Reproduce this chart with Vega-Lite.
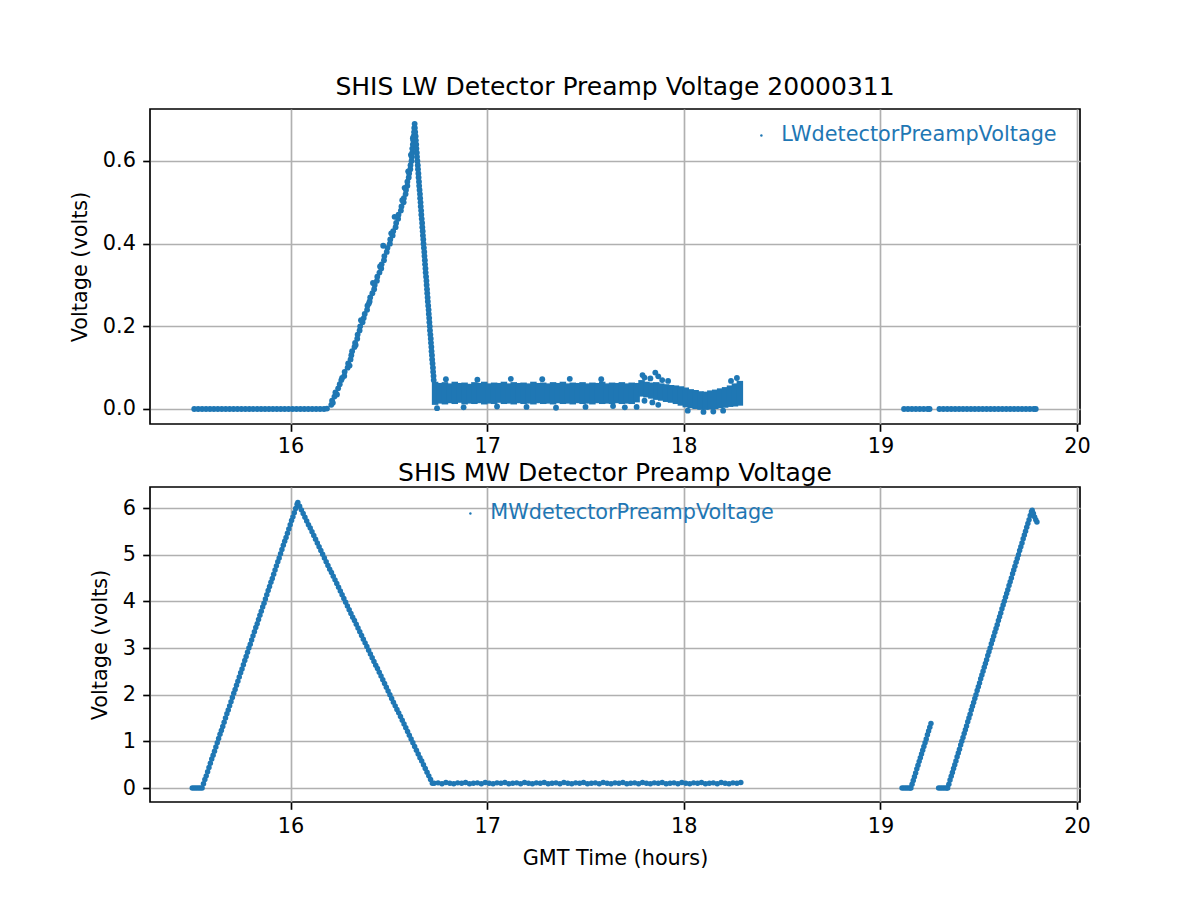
{
"$schema": "https://vega.github.io/schema/vega-lite/v6.json",
"background": "white",
"padding": {"left": 68, "top": 74, "right": 20, "bottom": 20},
"config": {
 "font": "DejaVu Sans",
 "view": {"stroke": "black", "strokeWidth": 1.67},
 "axis": {"labelFont": "DejaVu Sans", "labelFontSize": 20.8, "labelColor": "black", "titleFont": "DejaVu Sans", "titleFontSize": 20.8, "titleFontWeight": "normal", "titleColor": "black", "tickColor": "black", "tickSize": 7.3, "tickWidth": 1.67, "labelPadding": 7.3, "domain": false, "grid": true, "gridColor": "#b0b0b0", "gridWidth": 1.67, "titlePadding": 12, "labelFlush": false},
 "title": {"font": "DejaVu Sans", "fontSize": 25, "fontWeight": "normal", "color": "black", "offset": 9, "baseline": "alphabetic"},
 "legend": {"labelFont": "DejaVu Sans", "labelFontSize": 20.8, "labelColor": "#1f77b4", "labelLimit": 500, "symbolType": "circle", "symbolSize": 6, "symbolFillColor": "#1f77b4", "symbolStrokeWidth": 0, "symbolOpacity": 1, "labelOffset": 9.5, "padding": 0}
},
"datasets": {
 "lw": [
  {"t":15.51,"v":0},{"t":15.53,"v":0},{"t":15.55,"v":0},{"t":15.57,"v":0},{"t":15.59,"v":0},{"t":15.61,"v":0},{"t":15.63,"v":0},{"t":15.65,"v":0},{"t":15.67,"v":0},{"t":15.69,"v":0},{"t":15.71,"v":0},{"t":15.73,"v":0},{"t":15.75,"v":0},{"t":15.77,"v":0},{"t":15.79,"v":0},{"t":15.81,"v":0},{"t":15.83,"v":0},{"t":15.85,"v":0},{"t":15.87,"v":0},{"t":15.89,"v":0},{"t":15.91,"v":0},{"t":15.93,"v":0},{"t":15.95,"v":0},{"t":15.97,"v":0},{"t":15.99,"v":0},{"t":16.01,"v":0},{"t":16.03,"v":0},{"t":16.05,"v":0},{"t":16.07,"v":0},{"t":16.09,"v":0},{"t":16.11,"v":0},{"t":16.13,"v":0},{"t":16.15,"v":0},{"t":16.17,"v":0},{"t":16.185,"v":0.001},
  {"t":16.207,"v":0.01},{"t":16.211,"v":0.02},{"t":16.223,"v":0.03},{"t":16.228,"v":0.04},{"t":16.242,"v":0.05},{"t":16.250,"v":0.06},{"t":16.258,"v":0.07},{"t":16.273,"v":0.08},{"t":16.275,"v":0.09},{"t":16.290,"v":0.10},
  {"t":16.293,"v":0.11},{"t":16.305,"v":0.12},{"t":16.309,"v":0.13},{"t":16.313,"v":0.14},{"t":16.325,"v":0.15},{"t":16.328,"v":0.16},{"t":16.339,"v":0.17},{"t":16.341,"v":0.18},{"t":16.351,"v":0.19},{"t":16.354,"v":0.20},
  {"t":16.366,"v":0.21},{"t":16.372,"v":0.22},{"t":16.377,"v":0.23},{"t":16.389,"v":0.24},{"t":16.391,"v":0.25},{"t":16.402,"v":0.26},{"t":16.405,"v":0.27},{"t":16.416,"v":0.28},{"t":16.425,"v":0.29},{"t":16.428,"v":0.30},
  {"t":16.439,"v":0.31},{"t":16.441,"v":0.32},{"t":16.452,"v":0.33},{"t":16.461,"v":0.34},{"t":16.463,"v":0.35},{"t":16.475,"v":0.36},{"t":16.477,"v":0.37},{"t":16.489,"v":0.38},{"t":16.493,"v":0.39},{"t":16.505,"v":0.40},
  {"t":16.507,"v":0.41},{"t":16.519,"v":0.42},{"t":16.522,"v":0.43},{"t":16.534,"v":0.44},{"t":16.537,"v":0.45},{"t":16.547,"v":0.46},{"t":16.549,"v":0.47},{"t":16.561,"v":0.48},{"t":16.564,"v":0.49},{"t":16.575,"v":0.50},
  {"t":16.576,"v":0.51},{"t":16.585,"v":0.52},{"t":16.587,"v":0.53},{"t":16.594,"v":0.54},{"t":16.594,"v":0.55},{"t":16.601,"v":0.56},{"t":16.603,"v":0.57},{"t":16.609,"v":0.58},{"t":16.610,"v":0.59},{"t":16.615,"v":0.60},
  {"t":16.616,"v":0.61},{"t":16.619,"v":0.62},{"t":16.619,"v":0.63},{"t":16.622,"v":0.64},{"t":16.624,"v":0.65},{"t":16.626,"v":0.66},{"t":16.628,"v":0.67},{"t":16.629,"v":0.68},{"t":16.631,"v":0.69},
  {"t":16.215,"v":0.015},{"t":16.236,"v":0.035},{"t":16.262,"v":0.075},{"t":16.300,"v":0.105},{"t":16.331,"v":0.155},{"t":16.358,"v":0.215},{"t":16.398,"v":0.255},{"t":16.419,"v":0.305},{"t":16.455,"v":0.345},{"t":16.471,"v":0.395},
  {"t":16.512,"v":0.425},{"t":16.529,"v":0.465},{"t":16.568,"v":0.505},{"t":16.580,"v":0.535},{"t":16.598,"v":0.575},{"t":16.612,"v":0.615},{"t":16.622,"v":0.655},
  {"t":16.632,"v":0.68},{"t":16.634,"v":0.67},{"t":16.636,"v":0.66},{"t":16.637,"v":0.65},{"t":16.639,"v":0.64},{"t":16.640,"v":0.63},{"t":16.642,"v":0.62},{"t":16.643,"v":0.61},{"t":16.645,"v":0.60},{"t":16.647,"v":0.59},
  {"t":16.648,"v":0.58},{"t":16.650,"v":0.57},{"t":16.651,"v":0.56},{"t":16.653,"v":0.55},{"t":16.654,"v":0.54},{"t":16.656,"v":0.53},{"t":16.658,"v":0.52},{"t":16.659,"v":0.51},{"t":16.661,"v":0.50},{"t":16.662,"v":0.49},
  {"t":16.664,"v":0.48},{"t":16.665,"v":0.47},{"t":16.667,"v":0.46},{"t":16.669,"v":0.45},{"t":16.670,"v":0.44},{"t":16.672,"v":0.43},{"t":16.673,"v":0.42},{"t":16.675,"v":0.41},{"t":16.676,"v":0.40},{"t":16.678,"v":0.39},
  {"t":16.680,"v":0.38},{"t":16.681,"v":0.37},{"t":16.683,"v":0.36},{"t":16.684,"v":0.35},{"t":16.686,"v":0.34},{"t":16.687,"v":0.33},{"t":16.689,"v":0.32},{"t":16.691,"v":0.31},{"t":16.692,"v":0.30},{"t":16.694,"v":0.29},
  {"t":16.695,"v":0.28},{"t":16.697,"v":0.27},{"t":16.698,"v":0.26},{"t":16.700,"v":0.25},{"t":16.702,"v":0.24},{"t":16.703,"v":0.23},{"t":16.705,"v":0.22},{"t":16.706,"v":0.21},{"t":16.708,"v":0.20},{"t":16.709,"v":0.19},
  {"t":16.711,"v":0.18},{"t":16.713,"v":0.17},{"t":16.714,"v":0.16},{"t":16.716,"v":0.15},{"t":16.717,"v":0.14},{"t":16.719,"v":0.13},{"t":16.720,"v":0.12},{"t":16.722,"v":0.11},{"t":16.724,"v":0.10},{"t":16.725,"v":0.09},
  {"t":16.727,"v":0.08},{"t":16.728,"v":0.07},
  {"t":16.745,"v":0.002},{"t":16.79,"v":0.072},{"t":16.88,"v":0.004},{"t":16.95,"v":0.071},{"t":17.05,"v":0.006},{"t":17.12,"v":0.073},{"t":17.20,"v":0.005},{"t":17.28,"v":0.072},{"t":17.35,"v":0.003},{"t":17.42,"v":0.073},
  {"t":17.50,"v":0.005},{"t":17.58,"v":0.072},{"t":17.64,"v":0.007},{"t":17.70,"v":0.004},{"t":17.76,"v":0.005},{"t":17.79,"v":0.082},{"t":17.80,"v":0.076},{"t":17.83,"v":0.074},{"t":17.855,"v":0.088},{"t":17.87,"v":0.079},
  {"t":17.89,"v":0.070},{"t":17.80,"v":0.020},{"t":17.84,"v":0.016},{"t":17.87,"v":0.010},{"t":17.92,"v":0.068},{"t":18.27,"v":0.075},{"t":18.24,"v":0.068},{"t":18.02,"v":-0.004},{"t":18.10,"v":-0.007},{"t":18.15,"v":-0.006},{"t":18.20,"v":-0.004},
  {"t":19.12,"v":0},{"t":19.14,"v":0},{"t":19.16,"v":0},{"t":19.18,"v":0},{"t":19.20,"v":0},{"t":19.22,"v":0},{"t":19.24,"v":0},{"t":19.25,"v":0},
  {"t":19.30,"v":0},{"t":19.32,"v":0},{"t":19.34,"v":0},{"t":19.36,"v":0},{"t":19.38,"v":0},{"t":19.40,"v":0},{"t":19.42,"v":0},{"t":19.44,"v":0},{"t":19.46,"v":0},{"t":19.48,"v":0},{"t":19.50,"v":0},{"t":19.52,"v":0},{"t":19.54,"v":0},
  {"t":19.56,"v":0},{"t":19.58,"v":0},{"t":19.60,"v":0},{"t":19.62,"v":0},{"t":19.64,"v":0},{"t":19.66,"v":0},{"t":19.68,"v":0},{"t":19.70,"v":0},{"t":19.72,"v":0},{"t":19.74,"v":0},{"t":19.76,"v":0},{"t":19.78,"v":0},{"t":19.79,"v":0}
 ],
 "lwband": [
  {"t":16.735,"lo":0.010,"hi":0.066},{"t":16.760,"lo":0.013,"hi":0.063},{"t":16.785,"lo":0.011,"hi":0.065},{"t":16.810,"lo":0.014,"hi":0.062},{"t":16.835,"lo":0.012,"hi":0.066},{"t":16.860,"lo":0.015,"hi":0.063},
  {"t":16.885,"lo":0.011,"hi":0.064},{"t":16.910,"lo":0.013,"hi":0.061},{"t":16.935,"lo":0.012,"hi":0.065},{"t":16.960,"lo":0.014,"hi":0.063},{"t":16.985,"lo":0.011,"hi":0.066},{"t":17.010,"lo":0.013,"hi":0.062},
  {"t":17.035,"lo":0.012,"hi":0.064},{"t":17.060,"lo":0.015,"hi":0.063},{"t":17.085,"lo":0.012,"hi":0.066},{"t":17.110,"lo":0.013,"hi":0.062},{"t":17.135,"lo":0.011,"hi":0.065},{"t":17.160,"lo":0.014,"hi":0.063},
  {"t":17.185,"lo":0.012,"hi":0.064},{"t":17.210,"lo":0.013,"hi":0.062},{"t":17.235,"lo":0.011,"hi":0.066},{"t":17.260,"lo":0.014,"hi":0.063},{"t":17.285,"lo":0.012,"hi":0.064},{"t":17.310,"lo":0.013,"hi":0.062},
  {"t":17.335,"lo":0.011,"hi":0.065},{"t":17.360,"lo":0.014,"hi":0.063},{"t":17.385,"lo":0.012,"hi":0.066},{"t":17.410,"lo":0.013,"hi":0.062},{"t":17.435,"lo":0.011,"hi":0.064},{"t":17.460,"lo":0.014,"hi":0.063},
  {"t":17.485,"lo":0.012,"hi":0.065},{"t":17.510,"lo":0.013,"hi":0.062},{"t":17.535,"lo":0.011,"hi":0.064},{"t":17.560,"lo":0.014,"hi":0.063},{"t":17.585,"lo":0.012,"hi":0.066},{"t":17.610,"lo":0.013,"hi":0.062},
  {"t":17.635,"lo":0.012,"hi":0.064},{"t":17.660,"lo":0.014,"hi":0.063},{"t":17.685,"lo":0.012,"hi":0.065},{"t":17.710,"lo":0.013,"hi":0.062},{"t":17.735,"lo":0.012,"hi":0.064},{"t":17.760,"lo":0.016,"hi":0.063},
  {"t":17.785,"lo":0.030,"hi":0.070},{"t":17.810,"lo":0.028,"hi":0.066},{"t":17.835,"lo":0.025,"hi":0.064},{"t":17.860,"lo":0.022,"hi":0.065},{"t":17.885,"lo":0.020,"hi":0.062},{"t":17.910,"lo":0.017,"hi":0.060},
  {"t":17.935,"lo":0.015,"hi":0.058},{"t":17.960,"lo":0.012,"hi":0.057},{"t":17.985,"lo":0.008,"hi":0.055},{"t":18.010,"lo":0.004,"hi":0.052},{"t":18.035,"lo":0.002,"hi":0.048},{"t":18.060,"lo":0.000,"hi":0.046},
  {"t":18.085,"lo":-0.002,"hi":0.043},{"t":18.110,"lo":-0.002,"hi":0.042},{"t":18.135,"lo":-0.001,"hi":0.045},{"t":18.160,"lo":0.000,"hi":0.047},{"t":18.185,"lo":0.002,"hi":0.050},{"t":18.210,"lo":0.003,"hi":0.053},
  {"t":18.235,"lo":0.005,"hi":0.057},{"t":18.260,"lo":0.006,"hi":0.062},{"t":18.285,"lo":0.008,"hi":0.068}
 ],
 "mw": [
  {"t":15.500,"v":0},{"t":15.510,"v":0},{"t":15.520,"v":0},{"t":15.530,"v":0},{"t":15.540,"v":0},
  {"t":15.550,"v":0.00},{"t":15.557,"v":0.09},{"t":15.564,"v":0.18},{"t":15.571,"v":0.26},{"t":15.578,"v":0.35},{"t":15.585,"v":0.44},{"t":15.592,"v":0.53},{"t":15.599,"v":0.62},{"t":15.606,"v":0.70},{"t":15.613,"v":0.79},
  {"t":15.620,"v":0.88},{"t":15.627,"v":0.97},{"t":15.634,"v":1.06},{"t":15.641,"v":1.15},{"t":15.648,"v":1.23},{"t":15.655,"v":1.32},{"t":15.662,"v":1.41},{"t":15.669,"v":1.50},{"t":15.676,"v":1.59},{"t":15.683,"v":1.67},
  {"t":15.690,"v":1.76},{"t":15.697,"v":1.85},{"t":15.704,"v":1.94},{"t":15.711,"v":2.03},{"t":15.718,"v":2.11},{"t":15.725,"v":2.20},{"t":15.732,"v":2.29},{"t":15.739,"v":2.38},{"t":15.746,"v":2.47},{"t":15.753,"v":2.55},
  {"t":15.760,"v":2.64},{"t":15.767,"v":2.73},{"t":15.774,"v":2.82},{"t":15.781,"v":2.91},{"t":15.788,"v":3.00},{"t":15.795,"v":3.08},{"t":15.802,"v":3.17},{"t":15.809,"v":3.26},{"t":15.816,"v":3.35},{"t":15.823,"v":3.44},
  {"t":15.830,"v":3.52},{"t":15.837,"v":3.61},{"t":15.844,"v":3.70},{"t":15.851,"v":3.79},{"t":15.858,"v":3.88},{"t":15.865,"v":3.96},{"t":15.872,"v":4.05},{"t":15.879,"v":4.14},{"t":15.886,"v":4.23},{"t":15.893,"v":4.32},
  {"t":15.900,"v":4.41},{"t":15.907,"v":4.49},{"t":15.914,"v":4.58},{"t":15.921,"v":4.67},{"t":15.928,"v":4.76},{"t":15.935,"v":4.85},{"t":15.942,"v":4.93},{"t":15.949,"v":5.02},{"t":15.956,"v":5.11},{"t":15.963,"v":5.20},
  {"t":15.970,"v":5.29},{"t":15.977,"v":5.37},{"t":15.984,"v":5.46},{"t":15.991,"v":5.55},{"t":15.998,"v":5.64},{"t":16.005,"v":5.73},{"t":16.012,"v":5.81},{"t":16.019,"v":5.90},{"t":16.026,"v":5.99},{"t":16.033,"v":6.08},{"t":16.037,"v":6.12},
  {"t":16.046,"v":6.04},{"t":16.055,"v":5.96},{"t":16.064,"v":5.88},{"t":16.073,"v":5.80},{"t":16.082,"v":5.72},{"t":16.091,"v":5.64},{"t":16.100,"v":5.57},{"t":16.109,"v":5.49},{"t":16.118,"v":5.41},{"t":16.127,"v":5.33},
  {"t":16.136,"v":5.25},{"t":16.145,"v":5.17},{"t":16.154,"v":5.09},{"t":16.163,"v":5.01},{"t":16.172,"v":4.93},{"t":16.181,"v":4.85},{"t":16.190,"v":4.77},{"t":16.199,"v":4.69},{"t":16.208,"v":4.62},{"t":16.217,"v":4.54},
  {"t":16.226,"v":4.46},{"t":16.235,"v":4.38},{"t":16.244,"v":4.30},{"t":16.253,"v":4.22},{"t":16.262,"v":4.14},{"t":16.271,"v":4.06},{"t":16.280,"v":3.98},{"t":16.289,"v":3.90},{"t":16.298,"v":3.82},{"t":16.307,"v":3.74},
  {"t":16.316,"v":3.66},{"t":16.325,"v":3.59},{"t":16.334,"v":3.51},{"t":16.343,"v":3.43},{"t":16.352,"v":3.35},{"t":16.361,"v":3.27},{"t":16.370,"v":3.19},{"t":16.379,"v":3.11},{"t":16.388,"v":3.03},{"t":16.397,"v":2.95},
  {"t":16.406,"v":2.87},{"t":16.415,"v":2.79},{"t":16.424,"v":2.71},{"t":16.433,"v":2.63},{"t":16.442,"v":2.56},{"t":16.451,"v":2.48},{"t":16.460,"v":2.40},{"t":16.469,"v":2.32},{"t":16.478,"v":2.24},{"t":16.487,"v":2.16},
  {"t":16.496,"v":2.08},{"t":16.505,"v":2.00},{"t":16.514,"v":1.92},{"t":16.523,"v":1.84},{"t":16.532,"v":1.76},{"t":16.541,"v":1.68},{"t":16.550,"v":1.61},{"t":16.559,"v":1.53},{"t":16.568,"v":1.45},{"t":16.577,"v":1.37},
  {"t":16.586,"v":1.29},{"t":16.595,"v":1.21},{"t":16.604,"v":1.13},{"t":16.613,"v":1.05},{"t":16.622,"v":0.97},{"t":16.631,"v":0.89},{"t":16.640,"v":0.81},{"t":16.649,"v":0.73},{"t":16.658,"v":0.65},{"t":16.667,"v":0.58},
  {"t":16.676,"v":0.50},{"t":16.685,"v":0.42},{"t":16.694,"v":0.34},{"t":16.703,"v":0.26},{"t":16.712,"v":0.18},{"t":16.721,"v":0.10},
  {"t":16.73,"v":0.10},{"t":16.75,"v":0.11},{"t":16.77,"v":0.09},{"t":16.79,"v":0.12},{"t":16.81,"v":0.10},{"t":16.83,"v":0.09},{"t":16.85,"v":0.11},{"t":16.87,"v":0.10},{"t":16.89,"v":0.12},{"t":16.91,"v":0.09},
  {"t":16.93,"v":0.10},{"t":16.95,"v":0.11},{"t":16.97,"v":0.09},{"t":16.99,"v":0.12},{"t":17.01,"v":0.10},{"t":17.03,"v":0.09},{"t":17.05,"v":0.11},{"t":17.07,"v":0.10},{"t":17.09,"v":0.12},{"t":17.11,"v":0.09},
  {"t":17.13,"v":0.10},{"t":17.15,"v":0.11},{"t":17.17,"v":0.09},{"t":17.19,"v":0.12},{"t":17.21,"v":0.10},{"t":17.23,"v":0.09},{"t":17.25,"v":0.11},{"t":17.27,"v":0.10},{"t":17.29,"v":0.12},{"t":17.31,"v":0.09},
  {"t":17.33,"v":0.10},{"t":17.35,"v":0.11},{"t":17.37,"v":0.09},{"t":17.39,"v":0.12},{"t":17.41,"v":0.10},{"t":17.43,"v":0.09},{"t":17.45,"v":0.11},{"t":17.47,"v":0.10},{"t":17.49,"v":0.12},{"t":17.51,"v":0.09},
  {"t":17.53,"v":0.10},{"t":17.55,"v":0.11},{"t":17.57,"v":0.09},{"t":17.59,"v":0.12},{"t":17.61,"v":0.10},{"t":17.63,"v":0.09},{"t":17.65,"v":0.11},{"t":17.67,"v":0.10},{"t":17.69,"v":0.12},{"t":17.71,"v":0.09},
  {"t":17.73,"v":0.10},{"t":17.75,"v":0.11},{"t":17.77,"v":0.09},{"t":17.79,"v":0.12},{"t":17.81,"v":0.10},{"t":17.83,"v":0.09},{"t":17.85,"v":0.11},{"t":17.87,"v":0.10},{"t":17.89,"v":0.12},{"t":17.91,"v":0.09},
  {"t":17.93,"v":0.10},{"t":17.95,"v":0.11},{"t":17.97,"v":0.09},{"t":17.99,"v":0.12},{"t":18.01,"v":0.10},{"t":18.03,"v":0.09},{"t":18.05,"v":0.11},{"t":18.07,"v":0.10},{"t":18.09,"v":0.12},{"t":18.11,"v":0.09},
  {"t":18.13,"v":0.10},{"t":18.15,"v":0.11},{"t":18.17,"v":0.09},{"t":18.19,"v":0.12},{"t":18.21,"v":0.10},{"t":18.23,"v":0.09},{"t":18.25,"v":0.11},{"t":18.27,"v":0.10},{"t":18.29,"v":0.12},
  {"t":19.110,"v":0},{"t":19.120,"v":0},{"t":19.130,"v":0},{"t":19.140,"v":0},{"t":19.150,"v":0},{"t":19.155,"v":0},
  {"t":19.161,"v":0.08},{"t":19.167,"v":0.16},{"t":19.173,"v":0.24},{"t":19.179,"v":0.32},{"t":19.185,"v":0.41},{"t":19.191,"v":0.49},{"t":19.197,"v":0.57},{"t":19.203,"v":0.65},{"t":19.209,"v":0.73},
  {"t":19.215,"v":0.81},{"t":19.221,"v":0.89},{"t":19.227,"v":0.97},{"t":19.233,"v":1.05},{"t":19.239,"v":1.14},{"t":19.245,"v":1.22},{"t":19.251,"v":1.30},{"t":19.257,"v":1.38},
  {"t":19.296,"v":0},{"t":19.306,"v":0},{"t":19.316,"v":0},{"t":19.326,"v":0},{"t":19.336,"v":0},{"t":19.342,"v":0},
  {"t":19.348,"v":0.08},{"t":19.354,"v":0.17},{"t":19.360,"v":0.25},{"t":19.366,"v":0.33},{"t":19.372,"v":0.42},{"t":19.378,"v":0.50},{"t":19.384,"v":0.58},{"t":19.390,"v":0.67},{"t":19.396,"v":0.75},{"t":19.402,"v":0.83},
  {"t":19.408,"v":0.92},{"t":19.414,"v":1.00},{"t":19.420,"v":1.08},{"t":19.426,"v":1.17},{"t":19.432,"v":1.25},{"t":19.438,"v":1.33},{"t":19.444,"v":1.42},{"t":19.450,"v":1.50},{"t":19.456,"v":1.58},{"t":19.462,"v":1.67},
  {"t":19.468,"v":1.75},{"t":19.474,"v":1.83},{"t":19.480,"v":1.92},{"t":19.486,"v":2.00},{"t":19.492,"v":2.09},{"t":19.498,"v":2.17},{"t":19.504,"v":2.25},{"t":19.510,"v":2.34},{"t":19.516,"v":2.42},{"t":19.522,"v":2.50},
  {"t":19.528,"v":2.59},{"t":19.534,"v":2.67},{"t":19.540,"v":2.75},{"t":19.546,"v":2.84},{"t":19.552,"v":2.92},{"t":19.558,"v":3.00},{"t":19.564,"v":3.09},{"t":19.570,"v":3.17},{"t":19.576,"v":3.25},{"t":19.582,"v":3.34},
  {"t":19.588,"v":3.42},{"t":19.594,"v":3.50},{"t":19.600,"v":3.59},{"t":19.606,"v":3.67},{"t":19.612,"v":3.75},{"t":19.618,"v":3.84},{"t":19.624,"v":3.92},{"t":19.630,"v":4.00},{"t":19.636,"v":4.09},{"t":19.642,"v":4.17},
  {"t":19.648,"v":4.25},{"t":19.654,"v":4.34},{"t":19.660,"v":4.42},{"t":19.666,"v":4.50},{"t":19.672,"v":4.59},{"t":19.678,"v":4.67},{"t":19.684,"v":4.75},{"t":19.690,"v":4.84},{"t":19.696,"v":4.92},{"t":19.702,"v":5.00},
  {"t":19.708,"v":5.09},{"t":19.714,"v":5.17},{"t":19.720,"v":5.25},{"t":19.726,"v":5.34},{"t":19.732,"v":5.42},{"t":19.738,"v":5.50},{"t":19.744,"v":5.59},{"t":19.750,"v":5.67},{"t":19.756,"v":5.75},{"t":19.762,"v":5.84},
  {"t":19.768,"v":5.92},{"t":19.772,"v":5.95},{"t":19.778,"v":5.88},{"t":19.784,"v":5.81},{"t":19.790,"v":5.75},{"t":19.796,"v":5.70}
 ]
},
"spacing": 63,
"bounds": "flush",
"resolve": {"scale": {"x": "independent", "y": "independent", "color": "independent"}, "legend": {"color": "independent"}},
"vconcat": [
 {
  "width": 930, "height": 315,
  "title": {"text": "SHIS LW Detector Preamp Voltage 20000311"},
  "layer": [
   {
    "data": {"name": "lwband"},
    "mark": {"type": "rule", "color": "#1f77b4", "strokeWidth": 6.5},
    "encoding": {
     "x": {"field": "t", "type": "quantitative", "scale": {"domain": [15.285, 20.015], "nice": false, "zero": false}, "axis": {"values": [16, 17, 18, 19, 20], "title": null, "labelPadding": 5}},
     "y": {"field": "lo", "type": "quantitative", "scale": {"domain": [-0.0363, 0.7258], "nice": false, "zero": false}, "axis": {"values": [0, 0.2, 0.4, 0.6], "format": ".1f", "title": "Voltage (volts)"}},
     "y2": {"field": "hi"}
    }
   },
   {
    "data": {"name": "lw"},
    "mark": {"type": "circle", "size": 34, "opacity": 1},
    "encoding": {
     "x": {"field": "t", "type": "quantitative", "scale": {"domain": [15.285, 20.015], "nice": false, "zero": false}, "axis": {"values": [16, 17, 18, 19, 20], "title": null, "labelPadding": 5}},
     "y": {"field": "v", "type": "quantitative", "scale": {"domain": [-0.0363, 0.7258], "nice": false, "zero": false}, "axis": {"values": [0, 0.2, 0.4, 0.6], "format": ".1f", "title": "Voltage (volts)"}},
     "color": {"datum": "LWdetectorPreampVoltage", "type": "nominal", "scale": {"range": ["#1f77b4"]}, "legend": {"orient": "none", "legendX": 601, "legendY": 16, "title": null, "symbolSize": 6}}
    }
   }
  ]
 },
 {
  "width": 930, "height": 315,
  "title": {"text": "SHIS MW Detector Preamp Voltage", "offset": 1},
  "data": {"name": "mw"},
  "mark": {"type": "circle", "size": 30, "opacity": 1},
  "encoding": {
   "x": {"field": "t", "type": "quantitative", "scale": {"domain": [15.285, 20.015], "nice": false, "zero": false}, "axis": {"values": [16, 17, 18, 19, 20], "title": "GMT Time (hours)"}},
   "y": {"field": "v", "type": "quantitative", "scale": {"domain": [-0.30, 6.45], "nice": false, "zero": false}, "axis": {"values": [0, 1, 2, 3, 4, 5, 6], "title": "Voltage (volts)"}},
   "color": {"datum": "MWdetectorPreampVoltage", "type": "nominal", "scale": {"range": ["#1f77b4"]}, "legend": {"orient": "none", "legendX": 310, "legendY": 16, "title": null, "symbolSize": 6}}
  }
 }
]
}
